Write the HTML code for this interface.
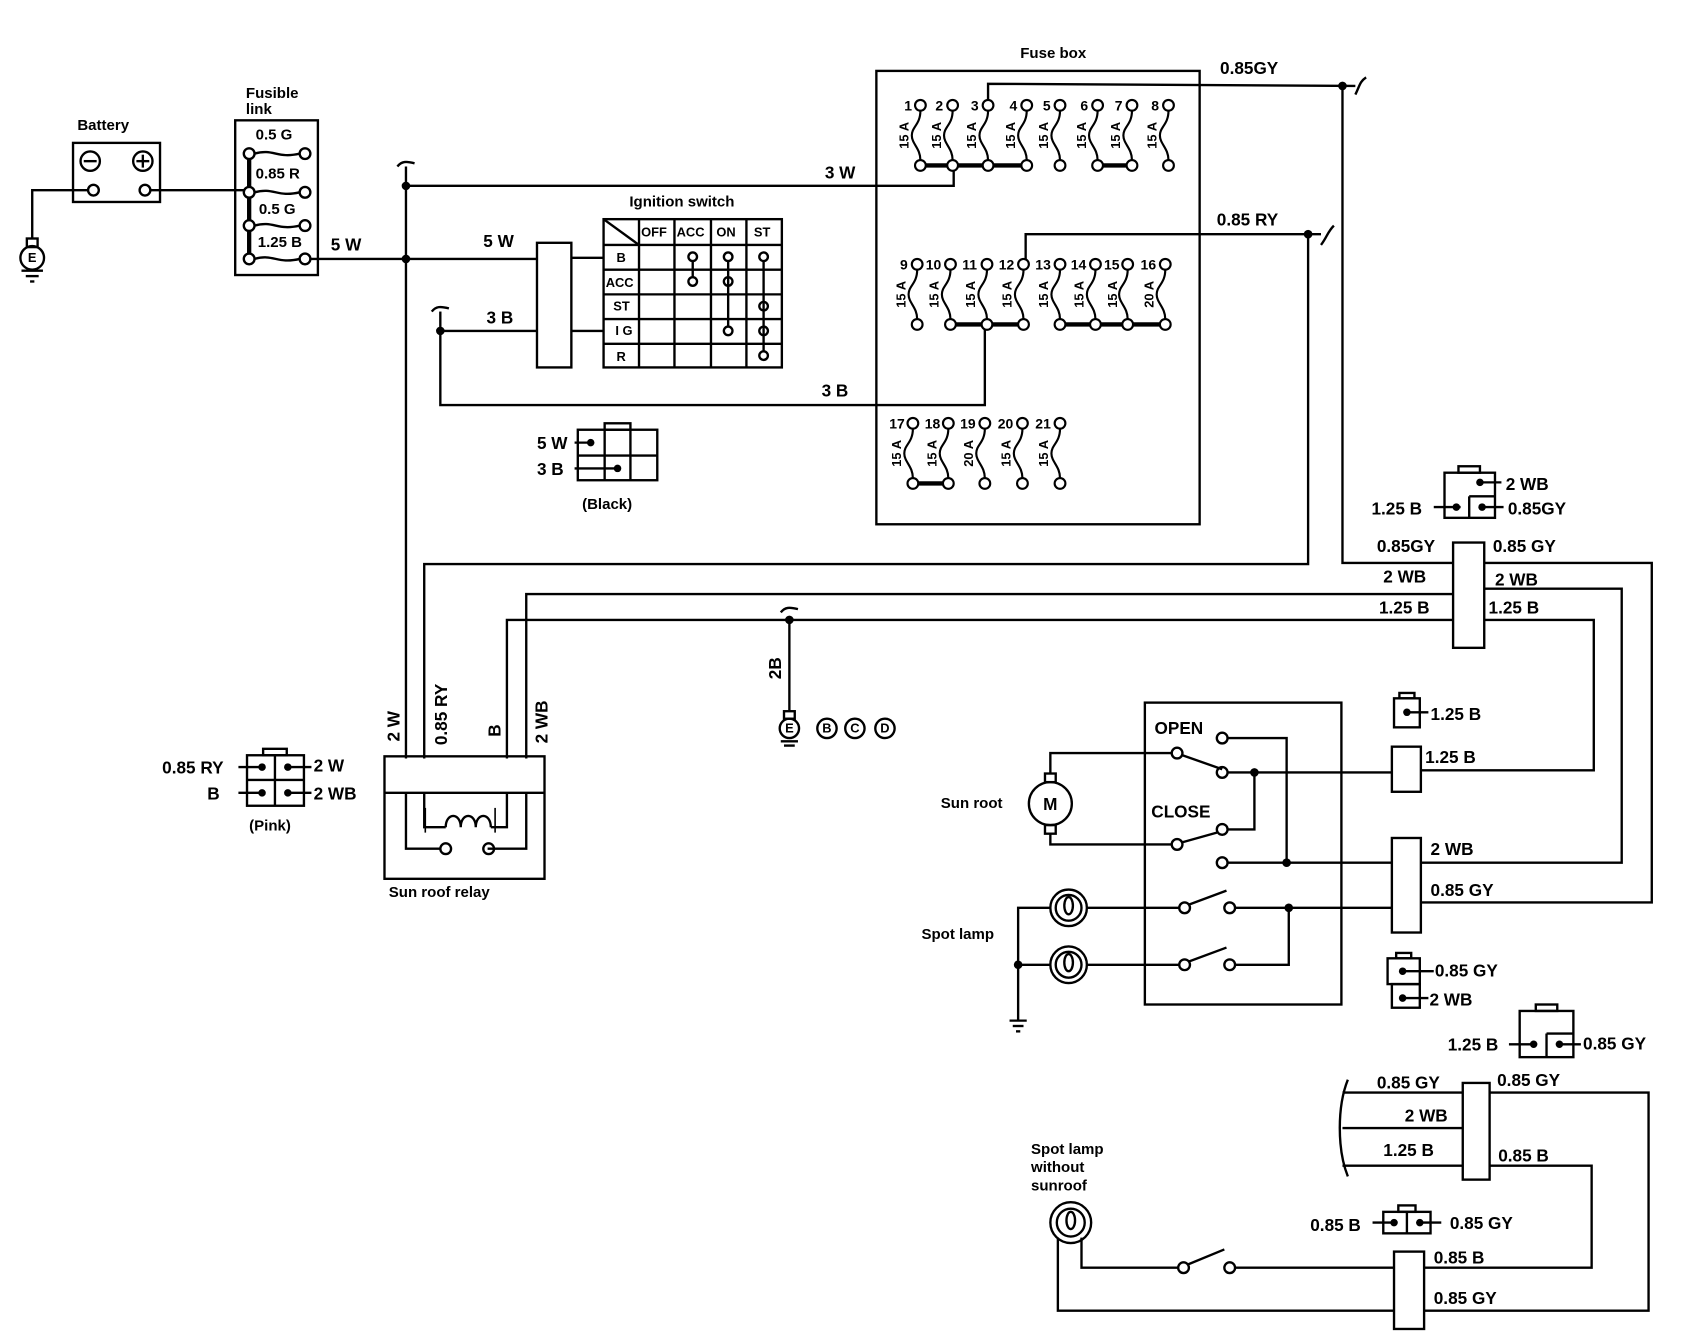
<!DOCTYPE html>
<html><head><meta charset="utf-8"><style>
html,body{margin:0;padding:0;background:#fff}
svg{display:block}
text{font-family:"Liberation Sans",sans-serif;font-weight:bold;fill:#000}
</style></head><body>
<svg width="1684" height="1344" viewBox="0 0 1568 1251" preserveAspectRatio="none" xmlns="http://www.w3.org/2000/svg">
<defs>
<g id="fz" fill="none" stroke="#000" stroke-width="2">
<circle cx="0" cy="0" r="5" fill="#fff"/>
<path d="M0 5 C0 18 -8 20 -8 28 C-8 36 0 40 0 51"/>
<circle cx="0" cy="56" r="5" fill="#fff"/>
</g>
</defs>
<g fill="none" stroke="#000" stroke-width="2.2">
<rect x="68" y="133" width="81" height="55"/>
<circle cx="84" cy="150" r="9"/><line x1="78" y1="150" x2="90" y2="150"/>
<circle cx="133" cy="150" r="9"/><line x1="127" y1="150" x2="139" y2="150"/><line x1="133" y1="144" x2="133" y2="156"/>
<circle cx="87" cy="177" r="5"/><circle cx="135" cy="177" r="5"/>
<polyline points="82,177 30,177 30,222"/>
<rect x="25" y="222" width="10" height="8"/>
<circle cx="30" cy="240" r="11"/>
<line x1="20" y1="252" x2="40" y2="252"/><line x1="24" y1="257" x2="36" y2="257"/><line x1="28" y1="262" x2="32" y2="262"/>
<line x1="140" y1="177" x2="228" y2="177"/>
<rect x="219" y="112" width="77" height="144"/>
<line x1="232" y1="143" x2="232" y2="241" stroke-width="4"/>
<circle cx="232" cy="143" r="5" fill="#fff"/><circle cx="232" cy="179" r="5" fill="#fff"/><circle cx="232" cy="210" r="5" fill="#fff"/><circle cx="232" cy="241" r="5" fill="#fff"/>
<circle cx="284" cy="143" r="5"/><circle cx="284" cy="179" r="5"/><circle cx="284" cy="210" r="5"/><circle cx="284" cy="241" r="5"/>
<path d="M237 143 C255 138 258 148 279 143"/><path d="M237 179 C255 174 258 184 279 179"/><path d="M237 210 C255 205 258 215 279 210"/><path d="M237 241 C255 236 258 246 279 241"/>
<line x1="289" y1="241" x2="500" y2="241"/>
<line x1="378" y1="155" x2="378" y2="706"/>
<path d="M370 155 C374 150 378 150 386 152"/>
<polyline points="378,173 888,173 888,155"/>
<rect x="500" y="226" width="32" height="116"/>
<line x1="532" y1="240" x2="562" y2="240"/><line x1="532" y1="308" x2="562" y2="308"/>
<rect x="562" y="204" width="166" height="138"/>
<line x1="595" y1="204" x2="595" y2="342"/><line x1="628" y1="204" x2="628" y2="342"/><line x1="662" y1="204" x2="662" y2="342"/><line x1="695" y1="204" x2="695" y2="342"/>
<line x1="562" y1="228" x2="728" y2="228"/><line x1="562" y1="251" x2="728" y2="251"/><line x1="562" y1="274" x2="728" y2="274"/><line x1="562" y1="297" x2="728" y2="297"/><line x1="562" y1="320" x2="728" y2="320"/>
<line x1="562" y1="204" x2="595" y2="228"/>
<circle cx="645" cy="239" r="4"/><circle cx="645" cy="262" r="4"/><line x1="645" y1="243" x2="645" y2="258"/>
<circle cx="678" cy="239" r="4"/><circle cx="678" cy="262" r="4"/><circle cx="678" cy="308" r="4"/><line x1="678" y1="243" x2="678" y2="304"/>
<circle cx="711" cy="239" r="4"/><circle cx="711" cy="285" r="4"/><circle cx="711" cy="308" r="4"/><circle cx="711" cy="331" r="4"/><line x1="711" y1="243" x2="711" y2="327"/>
<polyline points="500,308 410,308 410,377 917,377 917,307"/>
<line x1="410" y1="290" x2="410" y2="308"/><path d="M402 290 C406 285 410 285 418 287"/>
<rect x="538" y="400" width="74" height="47"/><rect x="563" y="394" width="24" height="6"/>
<line x1="563" y1="400" x2="563" y2="447"/><line x1="587" y1="400" x2="587" y2="447"/><line x1="538" y1="424" x2="612" y2="424"/>
<line x1="535" y1="412" x2="550" y2="412"/><line x1="535" y1="436" x2="575" y2="436"/>
<rect x="816" y="66" width="301" height="422"/>
<line x1="857" y1="154" x2="956" y2="154" stroke-width="4"/>
<line x1="1022" y1="154" x2="1054" y2="154" stroke-width="4"/>
<line x1="885" y1="302" x2="953" y2="302" stroke-width="4"/>
<line x1="987" y1="302" x2="1085" y2="302" stroke-width="4"/>
<line x1="850" y1="450" x2="883" y2="450" stroke-width="4"/>
<polyline points="920,94 920,78 1262,80"/>
<path d="M1262 88 C1266 80 1266 76 1272 72"/>
<polyline points="1250,80 1250,524 1353,524"/>
<polyline points="1382,524 1538,524 1538,840 1323,840"/>
<polyline points="955,242 955,218 1230,218"/>
<path d="M1230 228 C1236 220 1236 216 1242 210"/>
<polyline points="1218,218 1218,525 395,525 395,706"/>
<polyline points="490,706 490,553 1353,553"/>
<polyline points="1382,548 1510,548 1510,803 1323,803"/>
<polyline points="472,706 472,577 1353,577"/>
<polyline points="1382,577 1484,577 1484,717 1323,717"/>
<rect x="1353" y="505" width="29" height="98"/>
<line x1="735" y1="577" x2="735" y2="662"/><path d="M727 570 C731 565 735 565 743 567"/>
<rect x="730" y="662" width="10" height="7"/><circle cx="735" cy="678" r="9"/>
<line x1="727" y1="690" x2="743" y2="690"/><line x1="730" y1="694" x2="740" y2="694"/>
<circle cx="770" cy="678" r="9"/><circle cx="796" cy="678" r="9"/><circle cx="824" cy="678" r="9"/>
<rect x="358" y="704" width="149" height="114"/><line x1="358" y1="738" x2="507" y2="738"/>
<polyline points="378,738 378,790 410,790"/><polyline points="454,790 490,790 490,738"/>
<circle cx="415" cy="790" r="5"/><circle cx="455" cy="790" r="5"/>
<polyline points="395,738 395,770 415,770"/><path d="M415 770 c0-14 14-14 14 0 c0-14 14-14 14 0 c0-14 14-14 14 0"/>
<polyline points="457,770 472,770 472,738"/>
<line x1="396" y1="752" x2="396" y2="775" stroke-width="1.5"/><line x1="461" y1="752" x2="461" y2="775" stroke-width="1.5"/>
<rect x="230" y="703" width="53" height="47"/><rect x="245" y="697" width="22" height="6"/>
<line x1="256" y1="703" x2="256" y2="750"/><line x1="230" y1="726" x2="283" y2="726"/>
<line x1="222" y1="714" x2="244" y2="714"/><line x1="222" y1="738" x2="244" y2="738"/>
<line x1="268" y1="714" x2="290" y2="714"/><line x1="268" y1="738" x2="290" y2="738"/>
<rect x="1066" y="654" width="183" height="281"/>
<circle cx="978" cy="748" r="20"/><rect x="973" y="720" width="10" height="8"/><rect x="973" y="768" width="10" height="8"/>
<polyline points="978,720 978,701 1091,701"/><polyline points="978,776 978,786 1091,786"/>
<circle cx="1096" cy="701" r="5"/><line x1="1101" y1="703" x2="1138" y2="716"/><circle cx="1138" cy="719" r="5"/>
<circle cx="1138" cy="687" r="5"/><polyline points="1143,687 1198,687 1198,803"/>
<line x1="1143" y1="719" x2="1296" y2="719"/><polyline points="1168,719 1168,772 1143,772"/>
<circle cx="1138" cy="772" r="5"/><circle cx="1096" cy="786" r="5"/><line x1="1101" y1="784" x2="1133" y2="775"/>
<circle cx="1138" cy="803" r="5"/><line x1="1143" y1="803" x2="1296" y2="803"/>
<rect x="1296" y="695" width="27" height="42"/><rect x="1296" y="780" width="27" height="88"/>
<circle cx="995" cy="845" r="17"/><circle cx="995" cy="845" r="12"/><ellipse cx="995" cy="843" rx="4" ry="8"/>
<circle cx="995" cy="898" r="17"/><circle cx="995" cy="898" r="12"/><ellipse cx="995" cy="896" rx="4" ry="8"/>
<polyline points="978,845 948,845 948,950"/><line x1="948" y1="898" x2="978" y2="898"/>
<line x1="940" y1="950" x2="956" y2="950"/><line x1="943" y1="955" x2="953" y2="955"/><line x1="946" y1="960" x2="950" y2="960"/>
<line x1="1012" y1="845" x2="1098" y2="845"/><circle cx="1103" cy="845" r="5"/><line x1="1107" y1="842" x2="1142" y2="829"/><circle cx="1145" cy="845" r="5"/>
<line x1="1150" y1="845" x2="1296" y2="845"/><polyline points="1200,845 1200,898 1150,898"/>
<line x1="1012" y1="898" x2="1098" y2="898"/><circle cx="1103" cy="898" r="5"/><line x1="1107" y1="895" x2="1142" y2="882"/><circle cx="1145" cy="898" r="5"/>
<rect x="1298" y="650" width="24" height="27"/><rect x="1303" y="645" width="14" height="5"/><line x1="1310" y1="663" x2="1330" y2="663"/>
<rect x="1292" y="892" width="30" height="24"/><rect x="1300" y="887" width="14" height="5"/><rect x="1296" y="916" width="26" height="22"/>
<line x1="1306" y1="904" x2="1335" y2="904"/><line x1="1306" y1="929" x2="1330" y2="929"/>
<rect x="1345" y="440" width="47" height="42"/><rect x="1358" y="434" width="20" height="6"/><line x1="1368" y1="462" x2="1392" y2="462"/><line x1="1368" y1="462" x2="1368" y2="482"/>
<line x1="1378" y1="449" x2="1398" y2="449"/><line x1="1335" y1="472" x2="1360" y2="472"/><line x1="1380" y1="472" x2="1400" y2="472"/>
<rect x="1415" y="941" width="50" height="43"/><rect x="1430" y="935" width="20" height="6"/><line x1="1440" y1="962" x2="1465" y2="962"/><line x1="1440" y1="962" x2="1440" y2="984"/>
<line x1="1405" y1="972" x2="1430" y2="972"/><line x1="1450" y1="972" x2="1472" y2="972"/>
<path d="M1255 1005 C1245 1030 1245 1070 1255 1095"/>
<line x1="1250" y1="1017" x2="1362" y2="1017"/><line x1="1250" y1="1050" x2="1362" y2="1050"/><line x1="1250" y1="1085" x2="1362" y2="1085"/>
<rect x="1362" y="1008" width="25" height="90"/>
<polyline points="1387,1017 1535,1017 1535,1220 1326,1220"/>
<polyline points="1387,1085 1482,1085 1482,1180 1326,1180"/>
<rect x="1298" y="1165" width="28" height="72"/>
<rect x="1288" y="1128" width="44" height="20"/><rect x="1302" y="1122" width="16" height="6"/><line x1="1310" y1="1128" x2="1310" y2="1148"/>
<line x1="1278" y1="1138" x2="1298" y2="1138"/><line x1="1322" y1="1138" x2="1342" y2="1138"/>
<circle cx="997" cy="1138" r="19"/><circle cx="997" cy="1138" r="13"/><ellipse cx="997" cy="1136" rx="4" ry="8"/>
<polyline points="985,1152 985,1220 1298,1220"/><polyline points="1007,1152 1007,1180 1097,1180"/>
<circle cx="1102" cy="1180" r="5"/><line x1="1106" y1="1177" x2="1140" y2="1163"/><circle cx="1145" cy="1180" r="5"/><line x1="1150" y1="1180" x2="1298" y2="1180"/>
</g>
<g fill="#000">
<circle cx="378" cy="173" r="4"/><circle cx="378" cy="241" r="4"/><circle cx="410" cy="308" r="4"/>
<circle cx="887" cy="154" r="4"/><circle cx="917" cy="302" r="4"/><circle cx="1250" cy="80" r="4"/><circle cx="1218" cy="218" r="4"/>
<circle cx="735" cy="577" r="4"/><circle cx="1168" cy="719" r="4"/><circle cx="1198" cy="803" r="4"/><circle cx="1200" cy="845" r="4"/><circle cx="948" cy="898" r="4"/>
<circle cx="550" cy="412" r="3.5"/><circle cx="575" cy="436" r="3.5"/>
<circle cx="244" cy="714" r="3.5"/><circle cx="244" cy="738" r="3.5"/><circle cx="268" cy="714" r="3.5"/><circle cx="268" cy="738" r="3.5"/>
<circle cx="1310" cy="663" r="3.5"/><circle cx="1306" cy="904" r="3.5"/><circle cx="1306" cy="929" r="3.5"/>
<circle cx="1378" cy="449" r="3.5"/><circle cx="1356" cy="472" r="3.5"/><circle cx="1380" cy="472" r="3.5"/>
<circle cx="1428" cy="972" r="3.5"/><circle cx="1452" cy="972" r="3.5"/>
<circle cx="1298" cy="1138" r="3.5"/><circle cx="1322" cy="1138" r="3.5"/>
</g>
<use href="#fz" x="857" y="98"/><use href="#fz" x="887" y="98"/><use href="#fz" x="920" y="98"/><use href="#fz" x="956" y="98"/><use href="#fz" x="987" y="98"/><use href="#fz" x="1022" y="98"/><use href="#fz" x="1054" y="98"/><use href="#fz" x="1088" y="98"/>
<use href="#fz" x="854" y="246"/><use href="#fz" x="885" y="246"/><use href="#fz" x="919" y="246"/><use href="#fz" x="953" y="246"/><use href="#fz" x="987" y="246"/><use href="#fz" x="1020" y="246"/><use href="#fz" x="1050" y="246"/><use href="#fz" x="1085" y="246"/>
<use href="#fz" x="850" y="394"/><use href="#fz" x="883" y="394"/><use href="#fz" x="917" y="394"/><use href="#fz" x="952" y="394"/><use href="#fz" x="987" y="394"/>
<g font-size="13">
<text x="842" y="103">1</text><text x="871" y="103">2</text><text x="904" y="103">3</text><text x="940" y="103">4</text><text x="971" y="103">5</text><text x="1006" y="103">6</text><text x="1038" y="103">7</text><text x="1072" y="103">8</text>
<text x="838" y="251">9</text><text x="862" y="251">10</text><text x="896" y="251">11</text><text x="930" y="251">12</text><text x="964" y="251">13</text><text x="997" y="251">14</text><text x="1028" y="251">15</text><text x="1062" y="251">16</text>
<text x="828" y="399">17</text><text x="861" y="399">18</text><text x="894" y="399">19</text><text x="929" y="399">20</text><text x="964" y="399">21</text>
</g>
<g font-size="12" text-anchor="middle">
<text transform="translate(846,126) rotate(-90)">15 A</text><text transform="translate(876,126) rotate(-90)">15 A</text><text transform="translate(909,126) rotate(-90)">15 A</text><text transform="translate(945,126) rotate(-90)">15 A</text><text transform="translate(976,126) rotate(-90)">15 A</text><text transform="translate(1011,126) rotate(-90)">15 A</text><text transform="translate(1043,126) rotate(-90)">15 A</text><text transform="translate(1077,126) rotate(-90)">15 A</text>
<text transform="translate(843,274) rotate(-90)">15 A</text><text transform="translate(874,274) rotate(-90)">15 A</text><text transform="translate(908,274) rotate(-90)">15 A</text><text transform="translate(942,274) rotate(-90)">15 A</text><text transform="translate(976,274) rotate(-90)">15 A</text><text transform="translate(1009,274) rotate(-90)">15 A</text><text transform="translate(1040,274) rotate(-90)">15 A</text><text transform="translate(1074,274) rotate(-90)">20 A</text>
<text transform="translate(839,422) rotate(-90)">15 A</text><text transform="translate(872,422) rotate(-90)">15 A</text><text transform="translate(906,422) rotate(-90)">20 A</text><text transform="translate(941,422) rotate(-90)">15 A</text><text transform="translate(976,422) rotate(-90)">15 A</text>
</g>
<g font-size="14">
<text x="72" y="121">Battery</text><text x="229" y="91">Fusible</text><text x="229" y="106">link</text>
<text x="238" y="130">0.5  G</text><text x="238" y="166">0.85 R</text><text x="241" y="199">0.5  G</text><text x="240" y="230">1.25 B</text>
<text x="586" y="192">Ignition switch</text><text x="950" y="54">Fuse box</text>
<text x="542" y="474">(Black)</text><text x="232" y="773">(Pink)</text><text x="362" y="835">Sun roof relay</text>
<text x="876" y="752">Sun root</text><text x="858" y="874">Spot lamp</text>
<text x="960" y="1074">Spot lamp</text><text x="960" y="1091">without</text><text x="960" y="1108">sunroof</text>
</g>
<g font-size="12"><text x="597" y="220">OFF</text><text x="630" y="220">ACC</text><text x="667" y="220">ON</text><text x="702" y="220">ST</text>
<text x="574" y="244">B</text><text x="564" y="267">ACC</text><text x="571" y="289">ST</text><text x="573" y="312">I G</text><text x="574" y="336">R</text></g>
<g font-size="16">
<text x="308" y="233">5 W</text><text x="450" y="230">5 W</text><text x="453" y="301">3 B</text><text x="768" y="166">3 W</text><text x="765" y="369">3 B</text>
<text x="1136" y="69">0.85GY</text><text x="1133" y="210">0.85 RY</text>
<text x="500" y="418">5 W</text><text x="500" y="442">3 B</text>
<text x="151" y="720">0.85 RY</text><text x="193" y="744">B</text><text x="292" y="718">2 W</text><text x="292" y="744">2 WB</text>
<text x="1402" y="456">2 WB</text><text x="1277" y="479">1.25 B</text><text x="1404" y="479">0.85GY</text>
<text x="1282" y="514">0.85GY</text><text x="1390" y="514">0.85 GY</text><text x="1288" y="542">2 WB</text><text x="1392" y="545">2 WB</text><text x="1284" y="571">1.25 B</text><text x="1386" y="571">1.25 B</text>
<text x="1075" y="683">OPEN</text><text x="1072" y="761">CLOSE</text>
<text x="1332" y="670">1.25 B</text><text x="1327" y="710">1.25 B</text><text x="1332" y="796">2 WB</text><text x="1332" y="834">0.85 GY</text>
<text x="1336" y="909">0.85 GY</text><text x="1331" y="936">2 WB</text>
<text x="1348" y="978">1.25 B</text><text x="1474" y="977">0.85 GY</text>
<text x="1282" y="1013">0.85 GY</text><text x="1394" y="1011">0.85 GY</text><text x="1308" y="1044">2 WB</text><text x="1288" y="1076">1.25 B</text><text x="1395" y="1081">0.85  B</text>
<text x="1220" y="1146">0.85 B</text><text x="1350" y="1144">0.85  GY</text><text x="1335" y="1176">0.85 B</text><text x="1335" y="1214">0.85  GY</text>
</g>
<g font-size="16" text-anchor="middle">
<text transform="translate(372,676) rotate(-90)">2 W</text><text transform="translate(416,665) rotate(-90)">0.85 RY</text><text transform="translate(466,680) rotate(-90)">B</text><text transform="translate(510,672) rotate(-90)">2 WB</text><text transform="translate(727,622) rotate(-90)">2B</text>
</g>
<g font-size="12" text-anchor="middle"><text x="30" y="244">E</text><text x="735" y="682">E</text><text x="770" y="682">B</text><text x="796" y="682">C</text><text x="824" y="682">D</text><text x="978" y="754" font-size="16">M</text></g>
</svg>
</body></html>
